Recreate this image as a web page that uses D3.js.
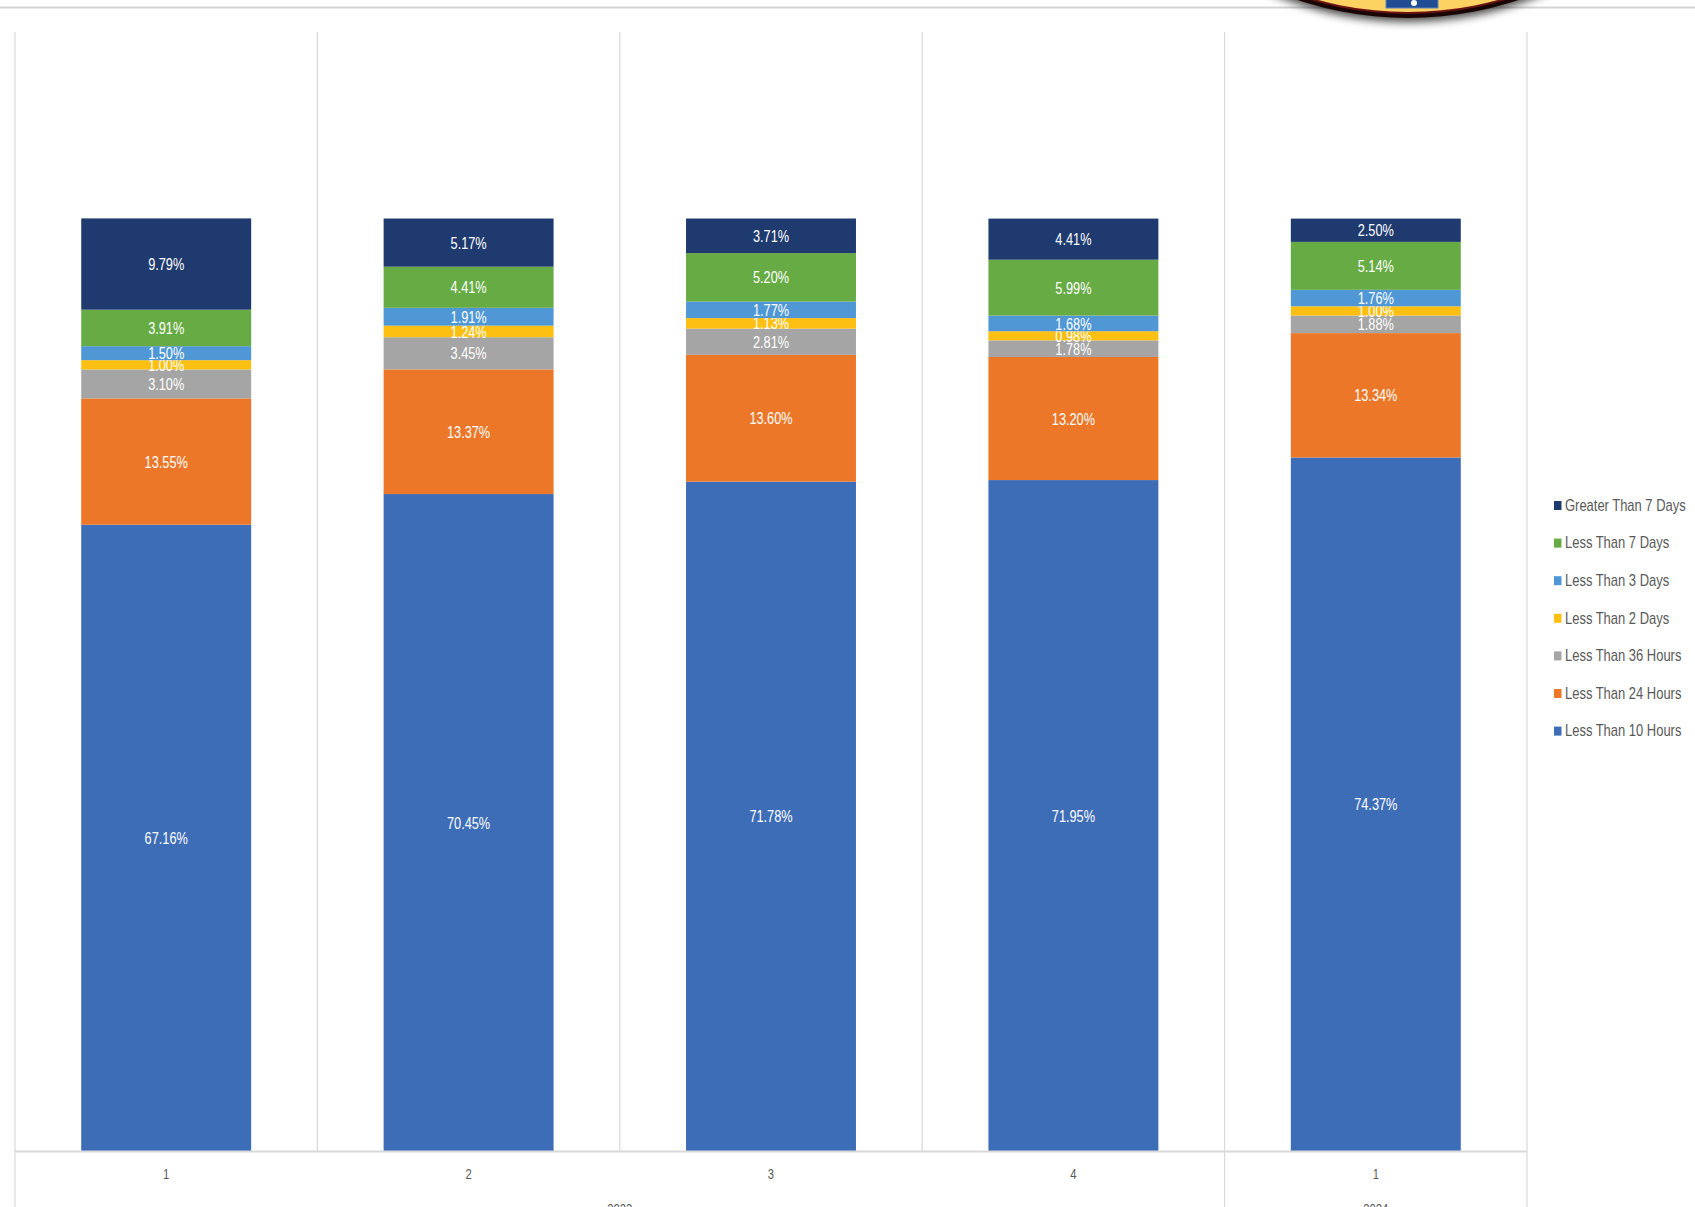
<!DOCTYPE html>
<html>
<head>
<meta charset="utf-8">
<script src="https://cdn.jsdelivr.net/npm/d3@7"></script>
<style>
  body { margin: 0; background: #fff; }
  text { font-family: "Liberation Sans", Arial, sans-serif; }
</style>
</head>
<body>
<div id="chart"></div>
<script>
var svgWidth = 1695;
var svgHeight = 1207;

// quarters and years
var quarters = ["1", "2", "3", "4", "1"];
var years = ["2023", "2023", "2023", "2023", "2024"];
var yearGroups = ["2023", "2024"];

// series, bottom to top
var seriesNames = ["Less Than 10 Hours", "Less Than 24 Hours", "Less Than 36 Hours",
  "Less Than 2 Days", "Less Than 3 Days", "Less Than 7 Days", "Greater Than 7 Days"];
var seriesColors = ["#3d6db7", "#ec7728", "#a5a5a5", "#fdbf12", "#4f98d5", "#67ab45", "#1e3a6e"];

var lt10h  = [67.16, 70.45, 71.78, 71.95, 74.37];
var lt24h  = [13.55, 13.37, 13.60, 13.20, 13.34];
var lt36h  = [3.10, 3.45, 2.81, 1.78, 1.88];
var lt2d   = [1.00, 1.24, 1.13, 0.98, 1.00];
var lt3d   = [1.50, 1.91, 1.77, 1.68, 1.76];
var lt7d   = [3.91, 4.41, 5.20, 5.99, 5.14];
var gt7d   = [9.79, 5.17, 3.71, 4.41, 2.50];

var seriesValues = [lt10h, lt24h, lt36h, lt2d, lt3d, lt7d, gt7d];

var plot = { left: 15, right: 1527, top: 32, bottom: 1151 };
var squeeze = 0.75;

var svg = d3.select("#chart")
  .append("svg")
  .attr("width", svgWidth)
  .attr("height", svgHeight);

var defs = svg.append("defs");
defs.append("filter").attr("id", "shadow")
  .attr("x", "-20%").attr("y", "-20%").attr("width", "140%").attr("height", "140%")
  .append("feGaussianBlur").attr("stdDeviation", 4);

// header rule and badge peeking in at the top
svg.append("line")
  .attr("x1", 0).attr("x2", svgWidth)
  .attr("y1", 7.5).attr("y2", 7.5)
  .attr("stroke", "#d4d4d4").attr("stroke-width", 2);

var badge = svg.append("g");
badge.append("circle").attr("cx", 1408).attr("cy", -326).attr("r", 348)
  .attr("fill", "#000").attr("opacity", 0.7).attr("filter", "url(#shadow)");
badge.append("circle").attr("cx", 1408).attr("cy", -330).attr("r", 348).attr("fill", "#1a0505");
badge.append("circle").attr("cx", 1408).attr("cy", -330).attr("r", 344).attr("fill", "#6b1414");
badge.append("circle").attr("cx", 1408).attr("cy", -330).attr("r", 342).attr("fill", "#fcd263");
badge.append("rect").attr("x", 1386).attr("y", -4).attr("width", 52).attr("height", 12)
  .attr("fill", "#1f4c92").attr("stroke", "#5b82c0").attr("stroke-width", 1);
badge.append("circle").attr("cx", 1414).attr("cy", 3).attr("r", 3).attr("fill", "#fff");

// scales
var x = d3.scaleBand()
  .domain(d3.range(quarters.length))
  .range([plot.left, plot.right])
  .paddingInner(0.438)
  .paddingOuter(0.219);

var y = d3.scaleLinear()
  .domain([0, 120])
  .range([plot.bottom, plot.top]);

var step = x.step();

// vertical gridlines between categories
var bounds = d3.range(quarters.length + 1);
svg.append("g").selectAll("line")
  .data(bounds)
  .enter()
  .append("line")
  .attr("x1", d => plot.left + d * step)
  .attr("x2", d => plot.left + d * step)
  .attr("y1", plot.top)
  .attr("y2", d => (d === 0 || d === 4 || d === 5) ? svgHeight : plot.bottom)
  .attr("stroke", "#d9d9d9")
  .attr("stroke-width", 1.2);

// stacked bars
var rows = quarters.map((q, i) => {
  var r = { idx: i };
  seriesNames.forEach((s, k) => { r[s] = seriesValues[k][i]; });
  return r;
});
var stacked = d3.stack().keys(seriesNames)(rows);

var layers = svg.append("g").selectAll("g.layer")
  .data(stacked)
  .enter()
  .append("g")
  .attr("fill", (d, k) => seriesColors[k]);

layers.selectAll("rect")
  .data(d => d)
  .enter()
  .append("rect")
  .attr("x", d => x(d.data.idx))
  .attr("width", x.bandwidth())
  .attr("y", d => y(d[1]))
  .attr("height", d => y(d[0]) - y(d[1]));

// data labels
layers.selectAll("text")
  .data(d => d)
  .enter()
  .append("text")
  .attr("transform", d => `translate(${x(d.data.idx) + x.bandwidth() / 2},${(y(d[0]) + y(d[1])) / 2}) scale(${squeeze},1)`)
  .attr("text-anchor", "middle")
  .attr("dy", "0.36em")
  .attr("fill", "#fff")
  .style("font-size", "17px")
  .text(function(d) {
    var key = d3.select(this.parentNode).datum().key;
    return (d.data[key]).toFixed(2) + "%";
  });

// category axis
svg.append("line")
  .attr("x1", plot.left).attr("x2", plot.right)
  .attr("y1", plot.bottom + 0.5).attr("y2", plot.bottom + 0.5)
  .attr("stroke", "#d9d9d9").attr("stroke-width", 2);

svg.append("g").selectAll("text")
  .data(quarters)
  .enter()
  .append("text")
  .attr("transform", (d, i) => `translate(${x(i) + x.bandwidth() / 2},${plot.bottom + 23}) scale(${squeeze},1)`)
  .attr("text-anchor", "middle")
  .attr("dy", "0.36em")
  .attr("fill", "#595959")
  .style("font-size", "15px")
  .text(d => d);

svg.append("g").selectAll("text")
  .data(yearGroups)
  .enter()
  .append("text")
  .attr("transform", d => {
    var idx = years.map((v, i) => v === d ? i : -1).filter(i => i >= 0);
    var cx = plot.left + (d3.min(idx) + d3.max(idx) + 1) / 2 * step;
    return `translate(${cx},${plot.bottom + 63}) scale(${squeeze},1)`;
  })
  .attr("text-anchor", "middle")
  .attr("fill", "#595959")
  .style("font-size", "15px")
  .text(d => d);

// legend, top to bottom
var legendNames = seriesNames.slice().reverse();
var legendColors = seriesColors.slice().reverse();
var legend = svg.append("g").selectAll("g")
  .data(legendNames)
  .enter()
  .append("g")
  .attr("transform", (d, i) => `translate(1554,${505 + i * 37.6})`);

legend.append("rect")
  .attr("x", 0).attr("y", -4)
  .attr("width", 7.5).attr("height", 9)
  .attr("fill", (d, i) => legendColors[i]);

legend.append("text")
  .attr("transform", `translate(11,0) scale(0.81,1)`)
  .attr("dy", "0.36em")
  .attr("fill", "#595959")
  .style("font-size", "16px")
  .text(d => d);
</script>
</body>
</html>
